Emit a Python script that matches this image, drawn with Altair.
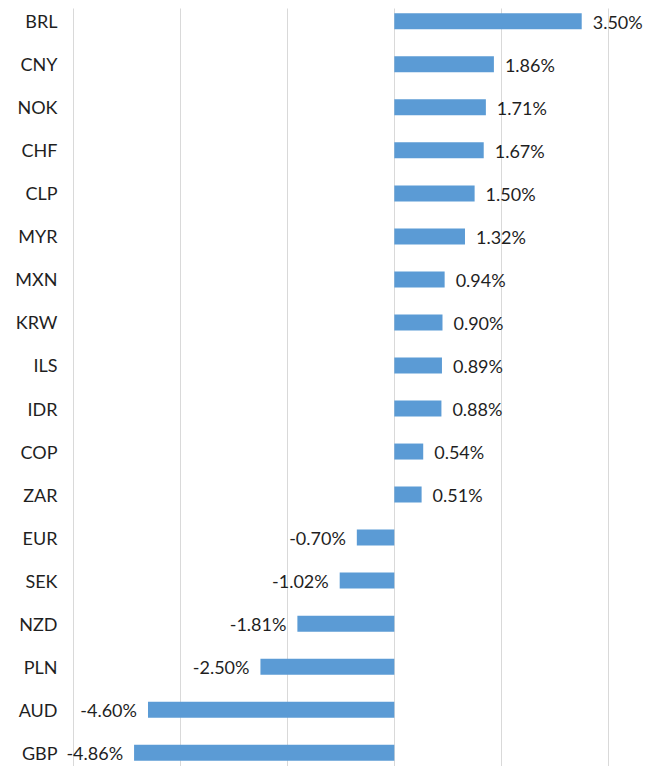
import altair as alt
import pandas as pd

currencies = ["BRL", "CNY", "NOK", "CHF", "CLP", "MYR", "MXN", "KRW", "ILS",
              "IDR", "COP", "ZAR", "EUR", "SEK", "NZD", "PLN", "AUD", "GBP"]
values = [3.50, 1.86, 1.71, 1.67, 1.50, 1.32, 0.94, 0.90, 0.89,
          0.88, 0.54, 0.51, -0.70, -1.02, -1.81, -2.50, -4.60, -4.86]
grid_ticks = [-6, -4, -2, 0, 2, 4]

df = pd.DataFrame({
    "currency": currencies,
    "value": values,
    "label": [f"{v:.2f}%" for v in values],
})

FONT = "Lato"
FS = 18
TEXT_COLOR = "#1f1f1f"

x_enc = alt.X("value:Q",
              scale=alt.Scale(domain=[-6.15, 4.85], nice=False, zero=False),
              axis=alt.Axis(values=grid_ticks, grid=True, labels=False, ticks=False,
                            domain=False, title=None, gridColor="#d9d9d9", gridWidth=1))
y_enc = alt.Y("currency:N", sort=currencies,
              scale=alt.Scale(paddingInner=0.628, paddingOuter=0.123),
              axis=alt.Axis(title=None, ticks=False, domain=False, grid=False,
                            labelFont=FONT, labelFontSize=FS, labelColor=TEXT_COLOR,
                            labelPadding=8, labelOffset=2))

base = alt.Chart(df)

bars = base.mark_bar(color="#5b9bd5").encode(
    x=x_enc, x2=alt.datum(0), y=y_enc
)

pos_labels = base.transform_filter("datum.value >= 0").mark_text(
    align="left", baseline="middle", dx=11, dy=2.5,
    font=FONT, fontSize=FS, color=TEXT_COLOR
).encode(x="value:Q", y=alt.Y("currency:N", sort=currencies), text="label:N")

neg_labels = base.transform_filter("datum.value < 0").mark_text(
    align="right", baseline="middle", dx=-11, dy=2.5,
    font=FONT, fontSize=FS, color=TEXT_COLOR
).encode(x="value:Q", y=alt.Y("currency:N", sort=currencies), text="label:N")

chart = alt.layer(bars, pos_labels, neg_labels).properties(
    width=589, height=758,
    autosize=alt.AutoSizeParams(type="none"),
    padding={"left": 57, "top": 0, "right": 0, "bottom": 0},
).configure_view(stroke=None)

chart.save("out.html", embed_options={"renderer": "svg", "actions": False})
